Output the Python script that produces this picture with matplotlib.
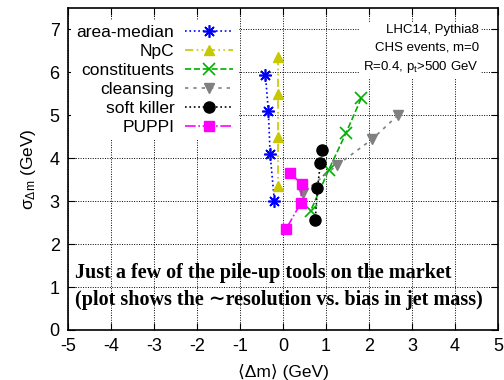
import matplotlib
matplotlib.use("Agg")
import matplotlib.pyplot as plt

plt.rcParams['font.family'] = ['Liberation Sans', 'DejaVu Sans']
plt.rcParams['mathtext.fontset'] = 'custom'
plt.rcParams['mathtext.rm'] = 'Liberation Sans'
plt.rcParams['mathtext.it'] = 'Liberation Sans:italic'
plt.rcParams['axes.unicode_minus'] = False

# data: (bias <dm>, resolution sigma)
am_x = [-0.41, -0.34, -0.30, -0.20]
am_y = [5.95, 5.10, 4.10, 3.00]
npc_x = [-0.12, -0.12, -0.12, -0.12]
npc_y = [6.35, 5.50, 4.49, 3.35]
con_x = [1.82, 1.47, 1.06, 0.64]
con_y = [5.40, 4.60, 3.72, 2.77]
cl_x = [2.67, 2.07, 1.26, 0.47]
cl_y = [5.00, 4.44, 3.84, 3.20]
sk_x = [0.90, 0.87, 0.80, 0.75]
sk_y = [4.19, 3.88, 3.30, 2.56]
pp_x = [0.16, 0.44, 0.41, 0.07]
pp_y = [3.65, 3.40, 2.95, 2.35]

labels = ['area-median', 'NpC', 'constituents', 'cleansing', 'soft killer', 'PUPPI']
xticks = [-5, -4, -3, -2, -1, 0, 1, 2, 3, 4, 5]
yticks = [0, 1, 2, 3, 4, 5, 6, 7]

fig = plt.figure(figsize=(5.04, 3.80), dpi=100)
ax = fig.add_axes([68/504, 50/380, 430/504, 322/380])

ax.plot(am_x, am_y, color='#0000ff', ls=':', lw=1.2, marker=(8, 2, 0), ms=9, mew=1.2, label=labels[0])
ax.plot(npc_x, npc_y, color='#c8c800', ls=(0, (5, 2, 1, 2, 1, 2)), lw=1.2, marker='^', ms=7.5, label=labels[1])
ax.plot(con_x, con_y, color='#00b000', ls='--', lw=1.2, marker='x', ms=8.5, mew=1.2, label=labels[2])
ax.plot(cl_x, cl_y, color='#808080', ls=(0, (2, 3)), lw=1.2, marker='v', ms=7.5, label=labels[3])
ax.plot(sk_x, sk_y, color='black', ls=':', lw=1.2, marker='o', ms=8, label=labels[4])
ax.plot(pp_x, pp_y, color='#ff00ff', ls='-.', lw=1.2, marker='s', ms=7.5, label=labels[5])

ax.set_xlim(-5, 5)
ax.set_ylim(0, 7.5)
ax.set_xticks(xticks)
ax.set_yticks(yticks)
ax.tick_params(direction='in', top=True, right=True, length=5, labelsize=13, pad=6)
ax.grid(True, color='black', ls=(0, (1, 1.5)), lw=0.7)
ax.set_axisbelow(True)
for s in ax.spines.values():
    s.set_linewidth(1.2)

ax.set_xlabel('\u27e8\u0394m\u27e9 (GeV)', fontsize=12.5, labelpad=6)
ax.set_ylabel(r'$\mathrm{\sigma_{\Delta m}}$ (GeV)', fontsize=12.5, labelpad=8)

leg = ax.legend(loc='upper left', bbox_to_anchor=(0.0, 0.975), markerfirst=False,
                fontsize=12.5, handlelength=2.8, labelspacing=0.22, borderpad=0.3,
                borderaxespad=0.2, handletextpad=0.6, frameon=True, fancybox=False,
                framealpha=1, edgecolor='none', facecolor='white')
for t in leg.get_texts():
    t.set_ha('right')
leg.get_frame().set_linewidth(0)

ax.text(0.955, 0.95, 'LHC14, Pythia8\nCHS events, m=0\nR=0.4, p$_\\mathrm{t}$>500 GeV',
        transform=ax.transAxes, ha='right', va='top', fontsize=9.5, linespacing=1.55,
        bbox=dict(facecolor='white', edgecolor='none', pad=2))

serif = ['Liberation Serif', 'DejaVu Serif']
ax.text(0.017, (330 - 273) / 322, 'Just a few of the pile-up tools on the market',
        transform=ax.transAxes, ha='left', va='center', fontsize=14.5, fontweight='bold',
        family=serif)
ax.text(0.017, (330 - 300) / 322, '(plot shows the \u223cresolution vs. bias in jet mass)',
        transform=ax.transAxes, ha='left', va='center', fontsize=14.5, fontweight='bold',
        family=serif)

fig.savefig('out.png', dpi=100)
